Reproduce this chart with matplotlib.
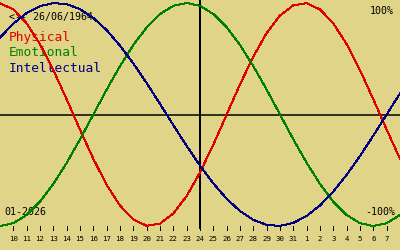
import matplotlib
matplotlib.use("Agg")
import matplotlib.pyplot as plt

# Day numbers for each plotted point (one point per day, left edge to right edge)
days = [9, 10, 11, 12, 13, 14, 15, 16, 17, 18, 19, 20, 21, 22, 23, 24, 25, 26,
        27, 28, 29, 30, 31, 1, 2, 3, 4, 5, 6, 7, 8]
# Biorhythm values read per day (-1 .. 1)
physical = [0.998, 0.942, 0.817, 0.631, 0.398, 0.136, -0.136, -0.398, -0.631,
            -0.817, -0.942, -0.998, -0.979, -0.888, -0.731, -0.520, -0.270, 0.0,
            0.270, 0.520, 0.731, 0.888, 0.979, 0.998, 0.942, 0.817, 0.631, 0.398,
            0.136, -0.136, -0.398]
emotional = [-1.0, -0.975, -0.901, -0.782, -0.623, -0.434, -0.223, 0.0, 0.223,
             0.434, 0.623, 0.782, 0.901, 0.975, 1.0, 0.975, 0.901, 0.782, 0.623,
             0.434, 0.223, 0.0, -0.223, -0.434, -0.623, -0.782, -0.901, -0.975,
             -1.0, -0.975, -0.901]
intellectual = [0.690, 0.815, 0.910, 0.972, 0.999, 0.990, 0.945, 0.866, 0.756,
                0.618, 0.458, 0.282, 0.095, -0.095, -0.282, -0.458, -0.618, -0.756,
                -0.866, -0.945, -0.990, -0.999, -0.972, -0.910, -0.815, -0.690,
                -0.541, -0.372, -0.189, 0.0, 0.189]
series_names = ["Physical", "Emotional", "Intellectual"]
series_colors = ["#e00000", "#008000", "#000080"]
birth_label = "<-- 26/06/1964"
month_label = "01-2026"
top_label = "100%"
bottom_label = "-100%"
center_index = 15

W, H = 400, 250
bg = "#e0d488"
fig = plt.figure(figsize=(W / 100, H / 100), dpi=100, facecolor=bg)
ax = fig.add_axes([0, 0, 1, 1])
ax.set_facecolor(bg)
for s in ax.spines.values():
    s.set_visible(False)
ax.set_xticks([])
ax.set_yticks([])

y0px, amp = 114.5, 111.5
def vy(py):
    return (y0px - py) / amp

ax.set_xlim(0, len(days) - 1)
ax.set_ylim(vy(H), vy(0))

xs = list(range(len(days)))
for vals, col in zip([physical, emotional, intellectual], series_colors):
    ax.plot(xs, vals, color=col, lw=0.72, antialiased=False, zorder=3)

# axes lines
ax.axhline(0, color="black", lw=1.1, zorder=2)
ax.vlines(center_index, vy(229), vy(0), color="black", lw=1.44, zorder=2,
          antialiased=False)

# tick marks and labels
mono = "DejaVu Sans Mono"
for i in range(1, len(days) - 1):
    ax.vlines(i, vy(230), vy(226), color="black", lw=0.72, antialiased=False)
    ax.text(i, vy(238.5), str(days[i]), ha="center", va="center",
            fontsize=5.3, family=mono, color="black")

def ftext(px, py, s, **kw):
    ax.text(px / W, 1 - py / H, s, family=mono, transform=ax.transAxes,
            zorder=1, **kw)

ftext(9, 16.7, birth_label, fontsize=7.2, va="center", ha="left", color="black")
for k, (name, col) in enumerate(zip(series_names, series_colors)):
    ftext(9, 38 + 15 * k, name, fontsize=9.3, va="center", ha="left", color=col)
ftext(394, 11.5, top_label, fontsize=7.2, va="center", ha="right", color="black")
ftext(395, 212, bottom_label, fontsize=7.2, va="center", ha="right", color="black")
ftext(4, 211.7, month_label, fontsize=7.2, va="center", ha="left", color="black")

fig.savefig("out.png", dpi=100, facecolor=bg)
